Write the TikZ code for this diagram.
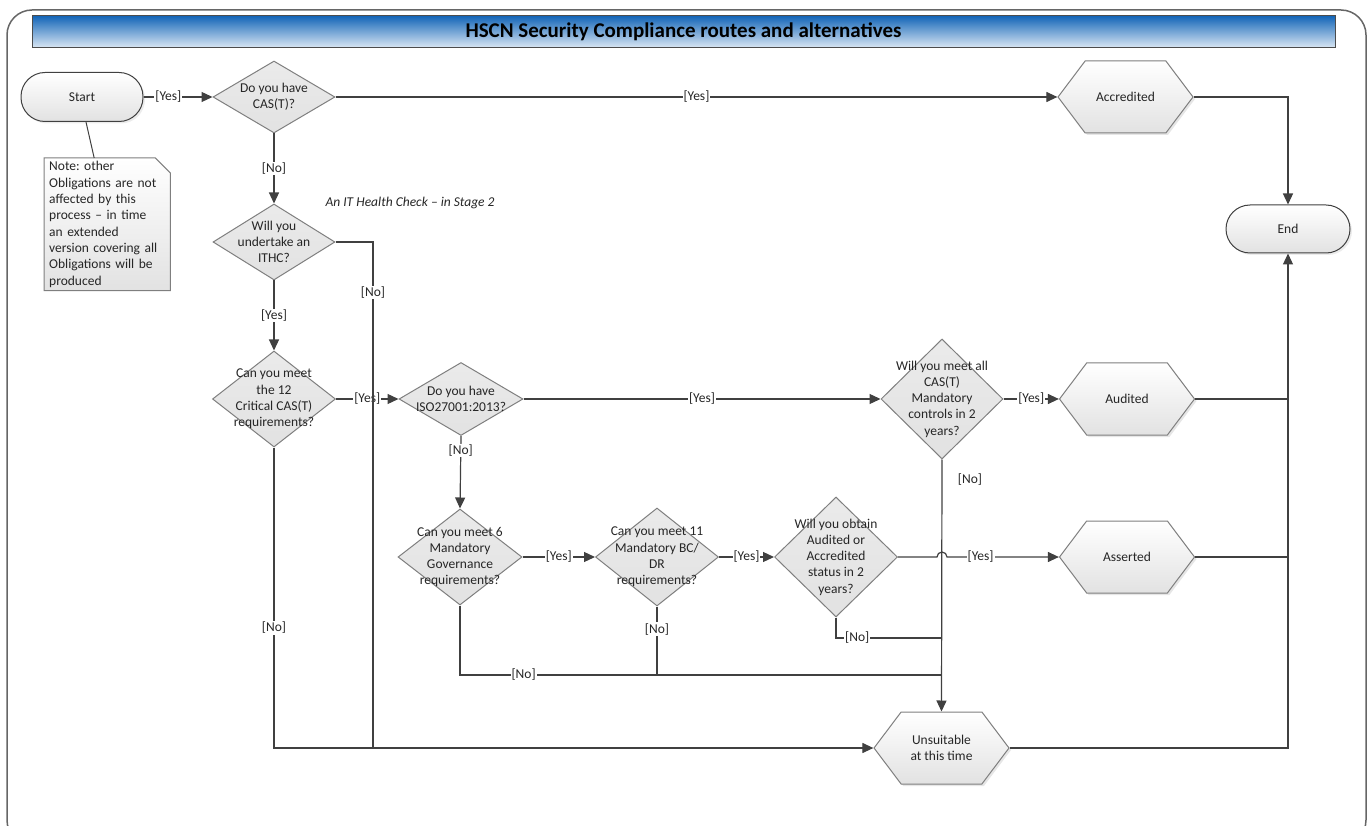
\documentclass[tikz,border=0pt]{standalone}
\usepackage{fontspec}
\setmainfont{Carlito}
\frenchspacing
\usepackage{tikz}
\usetikzlibrary{shapes.geometric, shapes.symbols, shadows, arrows.meta, positioning}
\pgfdeclarelayer{background}
\pgfsetlayers{background,main}

\definecolor{linegray}{HTML}{404040}
\definecolor{edgegray}{HTML}{7F7F7F}
\definecolor{fillgray}{HTML}{E2E2E2}
\definecolor{bardark}{HTML}{1466B8}
\definecolor{barlight}{HTML}{DCE8F4}

\begin{document}
\begin{tikzpicture}[x=1pt, y=-1pt,
    every node/.style={font=\fontsize{13.5}{16.3}\selectfont, text=black!85},
    frame/.style={draw=black!60, line width=1.5pt, rounded corners=25pt},
    titlebar/.style={draw=black!70, line width=1pt, top color=bardark, bottom color=barlight,
        minimum width=1303pt, minimum height=32pt, inner sep=0pt,
        font=\bfseries\fontsize{21}{24}\selectfont, text=black},
    terminal/.style={rectangle, rounded corners=24pt, draw=linegray, line width=1pt,
        top color=white, bottom color=fillgray, minimum width=122pt, minimum height=49pt,
        drop shadow={opacity=0.15, shadow xshift=2pt, shadow yshift=-2pt}},
    decision/.style={diamond, draw=edgegray, line width=1pt, top color=white!92!black,
        bottom color=fillgray, inner sep=0pt},
    result/.style={signal, signal to=east and west, signal pointer angle=106,
        draw=edgegray, line width=1pt, top color=white, bottom color=fillgray,
        inner sep=0pt, minimum width=135pt, minimum height=72pt, align=center,
        drop shadow={opacity=0.2, shadow xshift=2pt, shadow yshift=-2pt}},
    notebox/.style={draw=edgegray, line width=1pt, top color=white, bottom color=fillgray},
    flow/.style={draw=linegray, line width=1.2pt},
    arr/.style={flow, -{Triangle[length=11pt, width=10pt]}},
    choice/.style={fill=white, inner sep=1pt},
]
\useasboundingbox (0,0) rectangle (1369,826);

% frame and title
\begin{scope}
  \clip (0,0) rectangle (1369,826);
  \draw[frame] (7,10) rectangle (1366,845);
\end{scope}
\node[titlebar] (title) at (683.5,32) {HSCN Security Compliance routes and alternatives};

% start, end and outcomes
\node[terminal] (start) at (82,97) {Start};
\node[terminal, minimum width=124pt, minimum height=48pt] (endn) at (1288,229) {End};
\node[result] (acc) at (1125.5,97) {Accredited};
\node[result] (aud) at (1127,399) {Audited};
\node[result] (ass) at (1127,557) {Asserted};
\node[result] (unsuit) at (941.5,748) {Unsuitable\\at this time};

% note
\node[anchor=north west, text width=116pt, inner xsep=5pt, minimum height=132pt, align=left] (note) at (44,158)
    {Note: other\\Obligations are not\\affected by this\\process -- in time\\an extended\\version covering all\\Obligations will be\\produced};
\begin{pgfonlayer}{background}
  \draw[notebox] (note.north west) -- ([xshift=-15pt]note.north east) -- ([yshift=-15pt]note.north east)
      -- (note.south east) -- (note.south west) -- cycle;
\end{pgfonlayer}

% questions
\node[decision, minimum width=122pt, minimum height=72pt,
    label={[align=center]center:{Do you have\\CAS(T)?}}] (d1) at (274,97) {};
\node[decision, minimum width=122pt, minimum height=76pt,
    label={[align=center]center:{Will you\\undertake an\\ITHC?}}] (d2) at (274,242) {};
\node[decision, minimum width=123pt, minimum height=96pt,
    label={[align=center]center:{Can you meet\\the 12\\Critical CAS(T)\\requirements?}}] (d3) at (274,399) {};
\node[decision, minimum width=124pt, minimum height=73pt,
    label={[align=center]center:{Do you have\\ISO27001:2013?}}] (d4) at (461,399) {};
\node[decision, minimum width=124pt, minimum height=96pt,
    label={[align=center]center:{Can you meet 6\\Mandatory\\Governance\\requirements?}}] (d5) at (460,557) {};
\node[decision, minimum width=122pt, minimum height=120pt,
    label={[align=center]center:{Will you meet all\\CAS(T)\\Mandatory\\controls in 2\\years?}}] (d6) at (942,399) {};
\node[decision, minimum width=123pt, minimum height=98pt,
    label={[align=center]center:{Can you meet 11\\Mandatory BC/\\DR\\requirements?}}] (d7) at (657,557) {};
\node[decision, minimum width=123pt, minimum height=120pt,
    label={[align=center]center:{Will you obtain\\Audited or\\Accredited\\status in 2\\years?}}] (d8) at (836,557) {};

\node[font=\itshape\fontsize{13.5}{16.3}\selectfont, anchor=west] (ithc) at (322,203) {An IT Health Check -- in Stage 2};

\coordinate (j1) at (373,748);
\coordinate (j2) at (d6.south |- 0,638);
\coordinate (j3) at (d6.south |- 0,675);
\coordinate (jmp) at (d6.south |- d8.east);

% connectors
\draw[linegray, line width=1pt] ([xshift=4pt]start.south) -- ([xshift=-13pt]note.north);
\draw[arr] (start.east) -- node[choice, pos=0.36]{[Yes]} (d1.west);
\draw[arr] (d1.east) -- node[choice]{[Yes]} (acc.west);
\draw[arr] (acc.east) -| (endn.north);
\draw[arr] (d1.south) -- node[choice]{[No]} (d2.north);
\draw[arr] (d2.south) -- node[choice]{[Yes]} (d3.north);
\draw[arr] (d3.east) -- node[choice]{[Yes]} (d4.west);
\draw[flow] (d2.east) -| node[choice, pos=0.55]{[No]} (j1);
\draw[arr] (d3.south) |- node[choice, pos=0.3]{[No]} (unsuit.west);
\draw[arr] (d4.east) -- node[choice]{[Yes]} (d6.west);
\draw[arr] (d6.east) -- node[choice]{[Yes]} (aud.west);
\draw[arr] (d6.south) -- node[pos=0.08, anchor=west, xshift=12pt]{[No]} (unsuit.north);
\draw[arr] (d4.south) -- node[choice, pos=0.2]{[No]} (d5.north);
\draw[arr] (d5.east) -- node[choice]{[Yes]} (d7.west);
\draw[arr] (d7.east) -- node[choice]{[Yes]} (d8.west);
\draw[arr] (d8.east) -- ([xshift=-5pt]jmp) arc[start angle=180, end angle=0, radius=5pt]
    -- node[choice, pos=0.3]{[Yes]} (ass.west);
\draw[flow] (d8.south) |- node[choice, pos=0.6]{[No]} (j2);
\draw[flow] (d5.south) |- node[choice, pos=0.566]{[No]} (j3);
\draw[flow] (d7.south) -- node[choice, pos=0.33]{[No]} (d7.south |- j3);
\draw[arr] (unsuit.east) -| (endn.south);
\draw[flow] (aud.east) -- (aud.east -| endn.south);
\draw[flow] (ass.east) -- (ass.east -| endn.south);
\end{tikzpicture}
\end{document}
